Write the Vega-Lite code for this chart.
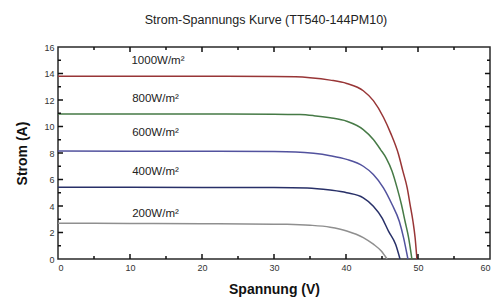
{
  "$schema": "https://vega.github.io/schema/vega-lite/v6.json",
  "width": 432,
  "height": 212,
  "autosize": "none",
  "padding": {"left": 58, "top": 47, "right": 6, "bottom": 41},
  "background": "white",
  "config": {
    "font": "Liberation Sans",
    "view": {"stroke": "#2a2a2a", "strokeWidth": 1.5},
    "axis": {"domain": false, "ticks": false, "grid": false, "labelOverlap": false, "labelFont": "Liberation Sans", "labelFontSize": 9, "labelColor": "#333", "titleFont": "Liberation Sans", "titleFontWeight": "bold", "titleFontSize": 14, "titleColor": "#111"}
  },
  "title": {"text": "Strom-Spannungs Kurve (TT540-144PM10)", "fontSize": 12.5, "fontWeight": "normal", "color": "#222", "font": "Liberation Sans", "offset": 20, "dx": -8, "dy": 3},
  "datasets": {
    "curves": [
      {"g": "1000", "V": 0, "I": 13.8}, {"g": "1000", "V": 10, "I": 13.8}, {"g": "1000", "V": 20, "I": 13.79}, {"g": "1000", "V": 30, "I": 13.78}, {"g": "1000", "V": 33, "I": 13.75}, {"g": "1000", "V": 35, "I": 13.68}, {"g": "1000", "V": 37.8, "I": 13.5}, {"g": "1000", "V": 40.1, "I": 13.25}, {"g": "1000", "V": 42.4, "I": 12.7}, {"g": "1000", "V": 43.8, "I": 11.95}, {"g": "1000", "V": 45.2, "I": 10.7}, {"g": "1000", "V": 46.2, "I": 9.5}, {"g": "1000", "V": 47.3, "I": 7.89}, {"g": "1000", "V": 47.9, "I": 6.63}, {"g": "1000", "V": 48.5, "I": 5.37}, {"g": "1000", "V": 48.9, "I": 4.11}, {"g": "1000", "V": 49.3, "I": 2.85}, {"g": "1000", "V": 49.6, "I": 1.6}, {"g": "1000", "V": 49.8, "I": 0.34}, {"g": "1000", "V": 49.85, "I": 0},
      {"g": "800", "V": 0, "I": 10.95}, {"g": "800", "V": 10, "I": 10.95}, {"g": "800", "V": 20, "I": 10.94}, {"g": "800", "V": 30, "I": 10.93}, {"g": "800", "V": 33.6, "I": 10.9}, {"g": "800", "V": 35.5, "I": 10.82}, {"g": "800", "V": 37.8, "I": 10.66}, {"g": "800", "V": 40.1, "I": 10.4}, {"g": "800", "V": 42.4, "I": 9.77}, {"g": "800", "V": 43.8, "I": 9.02}, {"g": "800", "V": 44.8, "I": 8.26}, {"g": "800", "V": 45.6, "I": 7.6}, {"g": "800", "V": 46.4, "I": 6.63}, {"g": "800", "V": 47.1, "I": 5.37}, {"g": "800", "V": 47.7, "I": 4.11}, {"g": "800", "V": 48.2, "I": 2.85}, {"g": "800", "V": 48.7, "I": 1.6}, {"g": "800", "V": 49.15, "I": 0},
      {"g": "600", "V": 0, "I": 8.15}, {"g": "600", "V": 10, "I": 8.14}, {"g": "600", "V": 20, "I": 8.13}, {"g": "600", "V": 30, "I": 8.11}, {"g": "600", "V": 33, "I": 8.08}, {"g": "600", "V": 35.5, "I": 7.98}, {"g": "600", "V": 37.8, "I": 7.8}, {"g": "600", "V": 40.1, "I": 7.52}, {"g": "600", "V": 42.4, "I": 7.0}, {"g": "600", "V": 43.8, "I": 6.38}, {"g": "600", "V": 45.2, "I": 5.37}, {"g": "600", "V": 46.4, "I": 4.11}, {"g": "600", "V": 47.4, "I": 2.85}, {"g": "600", "V": 48.0, "I": 1.6}, {"g": "600", "V": 48.6, "I": 0},
      {"g": "400", "V": 0, "I": 5.42}, {"g": "400", "V": 10, "I": 5.41}, {"g": "400", "V": 20, "I": 5.4}, {"g": "400", "V": 30, "I": 5.39}, {"g": "400", "V": 34.6, "I": 5.36}, {"g": "400", "V": 37.8, "I": 5.2}, {"g": "400", "V": 40.1, "I": 5.0}, {"g": "400", "V": 42.4, "I": 4.62}, {"g": "400", "V": 43.8, "I": 3.99}, {"g": "400", "V": 45.0, "I": 3.11}, {"g": "400", "V": 45.9, "I": 2.1}, {"g": "400", "V": 46.9, "I": 1.09}, {"g": "400", "V": 47.5, "I": 0},
      {"g": "200", "V": 0, "I": 2.7}, {"g": "200", "V": 10, "I": 2.68}, {"g": "200", "V": 20, "I": 2.66}, {"g": "200", "V": 30, "I": 2.63}, {"g": "200", "V": 31.8, "I": 2.62}, {"g": "200", "V": 35, "I": 2.55}, {"g": "200", "V": 37.8, "I": 2.4}, {"g": "200", "V": 40.1, "I": 2.12}, {"g": "200", "V": 42.4, "I": 1.62}, {"g": "200", "V": 43.8, "I": 1.12}, {"g": "200", "V": 44.9, "I": 0.6}, {"g": "200", "V": 45.7, "I": 0}
    ],
    "labels": [
      {"t": "1000W/m²", "V": 10.2, "I": 14.93},
      {"t": "800W/m²", "V": 10.3, "I": 12.04},
      {"t": "600W/m²", "V": 10.3, "I": 9.52},
      {"t": "400W/m²", "V": 10.3, "I": 6.53},
      {"t": "200W/m²", "V": 10.3, "I": 3.43}
    ],
    "xmajor": [{"v": 10}, {"v": 20}, {"v": 30}, {"v": 40}, {"v": 50}],
    "xminor": [{"v": 5}, {"v": 15}, {"v": 25}, {"v": 35}, {"v": 45}, {"v": 55}],
    "ymajor": [{"v": 2}, {"v": 4}, {"v": 6}, {"v": 8}, {"v": 10}, {"v": 12}, {"v": 14}],
    "yminor": [{"v": 1}, {"v": 3}, {"v": 5}, {"v": 7}, {"v": 9}, {"v": 11}, {"v": 13}, {"v": 15}]
  },
  "layer": [
    {
      "data": {"name": "curves"},
      "mark": {"type": "line", "interpolate": "monotone", "strokeWidth": 1.5, "clip": true},
      "encoding": {
        "x": {"field": "V", "type": "quantitative", "scale": {"domain": [0, 60], "nice": false},
          "axis": {"orient": "bottom", "title": "Spannung (V)", "titlePadding": 10, "values": [0,10,20,30,40,50,60], "labelPadding": 4}},
        "y": {"field": "I", "type": "quantitative", "scale": {"domain": [0, 16], "nice": false},
          "axis": {"orient": "left", "title": "Strom (A)", "titlePadding": 14, "values": [0,2,4,6,8,10,12,14,16], "labelPadding": 4}},
        "color": {"field": "g", "type": "nominal", "legend": null,
          "scale": {"domain": ["1000", "800", "600", "400", "200"], "range": ["#983536", "#467a46", "#52529e", "#283068", "#8f8f8f"]}}
      }
    },
    {
      "data": {"name": "labels"},
      "mark": {"type": "text", "align": "left", "baseline": "middle", "fontSize": 11.5, "font": "Liberation Sans", "color": "#222"},
      "encoding": {
        "x": {"field": "V", "type": "quantitative", "axis": null},
        "y": {"field": "I", "type": "quantitative", "axis": null},
        "text": {"field": "t"}
      }
    },
    {
      "data": {"name": "xmajor"},
      "mark": {"type": "rule", "strokeWidth": 1.5, "color": "#111"},
      "encoding": {"x": {"field": "v", "type": "quantitative", "axis": null}, "y": {"datum": 0, "type": "quantitative", "axis": null}, "y2": {"datum": 0.38}}
    },
    {
      "data": {"name": "xmajor"},
      "mark": {"type": "rule", "strokeWidth": 1.5, "color": "#111"},
      "encoding": {"x": {"field": "v", "type": "quantitative", "axis": null}, "y": {"datum": 16, "type": "quantitative", "axis": null}, "y2": {"datum": 15.62}}
    },
    {
      "data": {"name": "xminor"},
      "mark": {"type": "rule", "strokeWidth": 1.5, "color": "#111"},
      "encoding": {"x": {"field": "v", "type": "quantitative", "axis": null}, "y": {"datum": 0, "type": "quantitative", "axis": null}, "y2": {"datum": 0.23}}
    },
    {
      "data": {"name": "xminor"},
      "mark": {"type": "rule", "strokeWidth": 1.5, "color": "#111"},
      "encoding": {"x": {"field": "v", "type": "quantitative", "axis": null}, "y": {"datum": 16, "type": "quantitative", "axis": null}, "y2": {"datum": 15.77}}
    },
    {
      "data": {"name": "ymajor"},
      "mark": {"type": "rule", "strokeWidth": 1.5, "color": "#111"},
      "encoding": {"y": {"field": "v", "type": "quantitative", "axis": null}, "x": {"datum": 0, "type": "quantitative", "axis": null}, "x2": {"datum": 0.7}}
    },
    {
      "data": {"name": "ymajor"},
      "mark": {"type": "rule", "strokeWidth": 1.5, "color": "#111"},
      "encoding": {"y": {"field": "v", "type": "quantitative", "axis": null}, "x": {"datum": 60, "type": "quantitative", "axis": null}, "x2": {"datum": 59.3}}
    },
    {
      "data": {"name": "yminor"},
      "mark": {"type": "rule", "strokeWidth": 1.5, "color": "#111"},
      "encoding": {"y": {"field": "v", "type": "quantitative", "axis": null}, "x": {"datum": 0, "type": "quantitative", "axis": null}, "x2": {"datum": 0.42}}
    },
    {
      "data": {"name": "yminor"},
      "mark": {"type": "rule", "strokeWidth": 1.5, "color": "#111"},
      "encoding": {"y": {"field": "v", "type": "quantitative", "axis": null}, "x": {"datum": 60, "type": "quantitative", "axis": null}, "x2": {"datum": 59.58}}
    }
  ],
  "resolve": {"scale": {"x": "shared", "y": "shared"}, "axis": {"x": "independent", "y": "independent"}}
}
